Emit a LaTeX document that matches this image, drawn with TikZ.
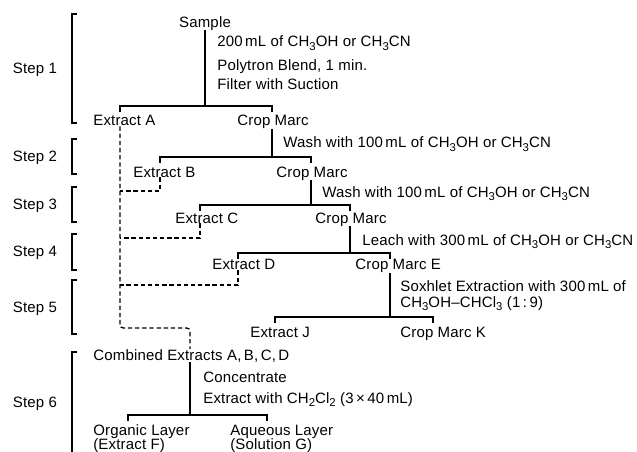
\documentclass[tikz,border=0pt]{standalone}
\usepackage{fontspec}
\setmainfont[LetterSpace=1.2]{Liberation Sans}
\usetikzlibrary{calc,positioning}
\newcommand{\chsub}[1]{\raisebox{-0.45ex}{\fontsize{6.8}{7}\selectfont#1}}

\begin{document}
\begin{tikzpicture}[x=0.6pt,y=-0.6pt,
    lbl/.style={inner sep=0pt,anchor=base west,font=\fontsize{9}{10}\selectfont},
    steplbl/.style={lbl,anchor=base},
    flow/.style={line width=0.8pt},
    pool/.style={line width=0.8pt,dash pattern=on 2.6pt off 1.7pt}]
  \useasboundingbox (0,0) rectangle (637,452);
  % step brackets
  \foreach \ya/\yb/\n in {14/123/1,139/174/2,187/222/3,234/270/4,280/334/5}{
    \draw[flow] (77,\ya) -- (72,\ya) -- (72,\yb) -- (77,\yb);
    \node[steplbl] (step\n) at (35,{(\ya+\yb)/2+5}) {Step \n};}
  \draw[flow] (77,352) -- (72,352) -- (72,452);
  \node[steplbl] (step6) at (35,407) {Step 6};

  % texts
  \node[lbl,anchor=base] (sample) at (205,27) {Sample};
  \node[lbl] (blend) at (217,47) {200\,mL of CH\chsub{3}OH or CH\chsub{3}CN};
  \node[lbl] (polytron) at (217,70) {Polytron Blend, 1 min.};
  \node[lbl] (filter) at (217,90) {Filter with Suction};
  \node[lbl] (extA) at (93,126) {Extract A};
  \node[lbl] (marcA) at (237,126) {Crop Marc};
  \node[lbl] (wash1) at (283,148) {Wash with 100\,mL of CH\chsub{3}OH or CH\chsub{3}CN};
  \node[lbl] (extB) at (133,177) {Extract B};
  \node[lbl] (marcB) at (276,177) {Crop Marc};
  \node[lbl] (wash2) at (322,197) {Wash with 100\,mL of CH\chsub{3}OH or CH\chsub{3}CN};
  \node[lbl] (extC) at (175,223) {Extract C};
  \node[lbl] (marcC) at (315,223) {Crop Marc};
  \node[lbl] (leach) at (362,245) {Leach with 300\,mL of CH\chsub{3}OH or CH\chsub{3}CN};
  \node[lbl] (extD) at (212,270) {Extract D};
  \node[lbl] (marcE) at (355,270) {Crop Marc E};
  \node[lbl] (soxA) at (400,292) {Soxhlet Extraction with 300\,mL of};
  \node[lbl] (soxB) at (400,307) {CH\chsub{3}OH--CHCl\chsub{3} (1\,:\,9)};
  \node[lbl] (extJ) at (250,337) {Extract J};
  \node[lbl] (marcK) at (400,337) {Crop Marc K};
  \node[lbl] (comb) at (93,360) {Combined Extracts A,\,B,\,C,\,D};
  \node[lbl] (conc) at (203,382) {Concentrate};
  \node[lbl] (extw) at (203,403) {Extract with CH\chsub{2}Cl\chsub{2} (3\,×\,40\,mL)};
  \node[lbl] (org) at (93,435) {Organic Layer};
  \node[lbl] (orgF) at (93,449) {(Extract F)};
  \node[lbl] (aq) at (230,435) {Aqueous Layer};
  \node[lbl] (aqG) at (230,449) {(Solution G)};

  % split bars
  \foreach \l/\r/\y [count=\i] in {120/272/106,160/311/157,200/350/205,238/390/253,275/433/317,128/267/415}{
    \coordinate (L\i) at (\l,\y);
    \coordinate (R\i) at (\r,\y);
    \draw[flow] ($(L\i)+(0,6)$) -- (L\i) -- (R\i) -- ++(0,6);}
  \coordinate (J6) at (190,415);

  % stems
  \draw[flow] (sample) -- (sample |- L1);
  \draw[flow] (R1 |- marcA.south) -- (R1 |- L2);
  \draw[flow] (R2 |- marcB.south) -- (R2 |- L3);
  \draw[flow] (R3 |- marcC.south) -- (R3 |- L4);
  \draw[flow] (R4 |- marcE.south) -- (R4 |- L5);
  \draw[flow] (comb.south -| J6) -- (J6);

  % pooled extracts
  \coordinate (P) at (120,328);
  \coordinate (pB) at (160,191);
  \coordinate (pC) at (200,238);
  \coordinate (pD) at (238,285);
  \draw[pool,rounded corners=2pt] (extA.south -| L1) -- (P) -| (comb.north -| J6);
  \draw[pool] (extB.south -| L2) -- (pB) -- (pB -| P);
  \draw[pool] (extC.south -| L3) -- (pC) -- (pC -| P);
  \draw[pool] (extD.south -| L4) -- (pD) -- (pD -| P);
\end{tikzpicture}
\end{document}
